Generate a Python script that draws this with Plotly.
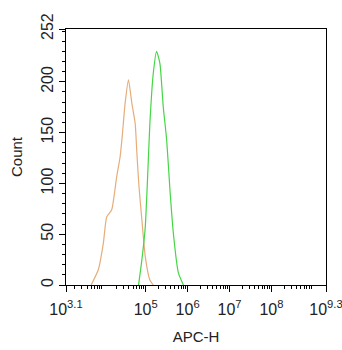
import plotly.graph_objects as go

# Orange histogram (log10 APC-H, count)
orange_log = [3.70, 3.87, 3.99, 4.07, 4.19, 4.31, 4.39, 4.44, 4.51, 4.59, 4.67, 4.75, 4.79, 4.84, 4.91, 4.99, 5.10, 5.18]
orange_cnt = [0, 15, 41, 67, 74, 107, 126, 146, 179, 202, 179, 159, 130, 97, 64, 28, 5, 0]

# Green histogram
green_log = [4.83, 4.91, 4.99, 5.05, 5.10, 5.18, 5.26, 5.34, 5.42, 5.50, 5.58, 5.66, 5.78, 5.90]
green_cnt = [0, 25, 57, 110, 159, 208, 230, 218, 175, 143, 93, 51, 12, 0]

x_tick_exp = [3.1, 5, 6, 7, 8, 9.3]
y_ticks = [0, 50, 100, 150, 200, 252]

fig = go.Figure()
fig.add_trace(go.Scatter(x=[10**v for v in orange_log], y=orange_cnt, mode="lines",
                         line=dict(color="#E6AD7A", width=1.2, shape="spline", smoothing=0.5),
                         showlegend=False))
fig.add_trace(go.Scatter(x=[10**v for v in green_log], y=green_cnt, mode="lines",
                         line=dict(color="#45D645", width=1.2, shape="spline", smoothing=0.5),
                         showlegend=False))

minor_vals = []
for k in range(3, 10):
    for m in range(2, 10):
        v = m * 10**k
        if 10**3.1 <= v <= 10**9.3:
            minor_vals.append(v)

font = dict(family="Liberation Sans, Arial, sans-serif", size=14, color="#222")

fig.update_layout(
    width=342, height=350,
    margin=dict(l=66, r=16, t=29, b=65),
    paper_bgcolor="white", plot_bgcolor="white",
    font=font,
    xaxis=dict(
        type="log", range=[3.1, 9.3], automargin=False,
        tickvals=[10**e for e in x_tick_exp],
        ticktext=["10<sup>%s</sup>" % (str(e) if e != int(e) else str(int(e))) for e in x_tick_exp],
        ticks="outside", ticklen=6, tickcolor="black", tickwidth=1,
        ticklabeloverflow="allow", ticklabelstandoff=4,
        minor=dict(tickvals=minor_vals, ticks="outside", ticklen=3, tickcolor="black", showgrid=False),
        showline=True, linecolor="black", linewidth=1, mirror=True,
        showgrid=False, zeroline=False,
        title=dict(text="APC-H", font=dict(size=15), standoff=14),
        tickfont=dict(size=16),
    ),
    yaxis=dict(
        range=[0, 252], automargin=False,
        tickvals=y_ticks,
        ticks="outside", ticklen=6, tickcolor="black", tickwidth=1,
        ticklabeloverflow="allow",
        minor=dict(dtick=10, ticks="outside", ticklen=3, tickcolor="black", showgrid=False),
        showline=True, linecolor="black", linewidth=1, mirror=True,
        showgrid=False, zeroline=False,
        tickangle=-90,
        title=dict(text="Count", font=dict(size=15), standoff=12),
        tickfont=dict(size=16),
    ),
)

fig.write_html("out.html", config={"displayModeBar": False},
               post_script="document.body.style.margin='0';document.body.style.padding='0';")
